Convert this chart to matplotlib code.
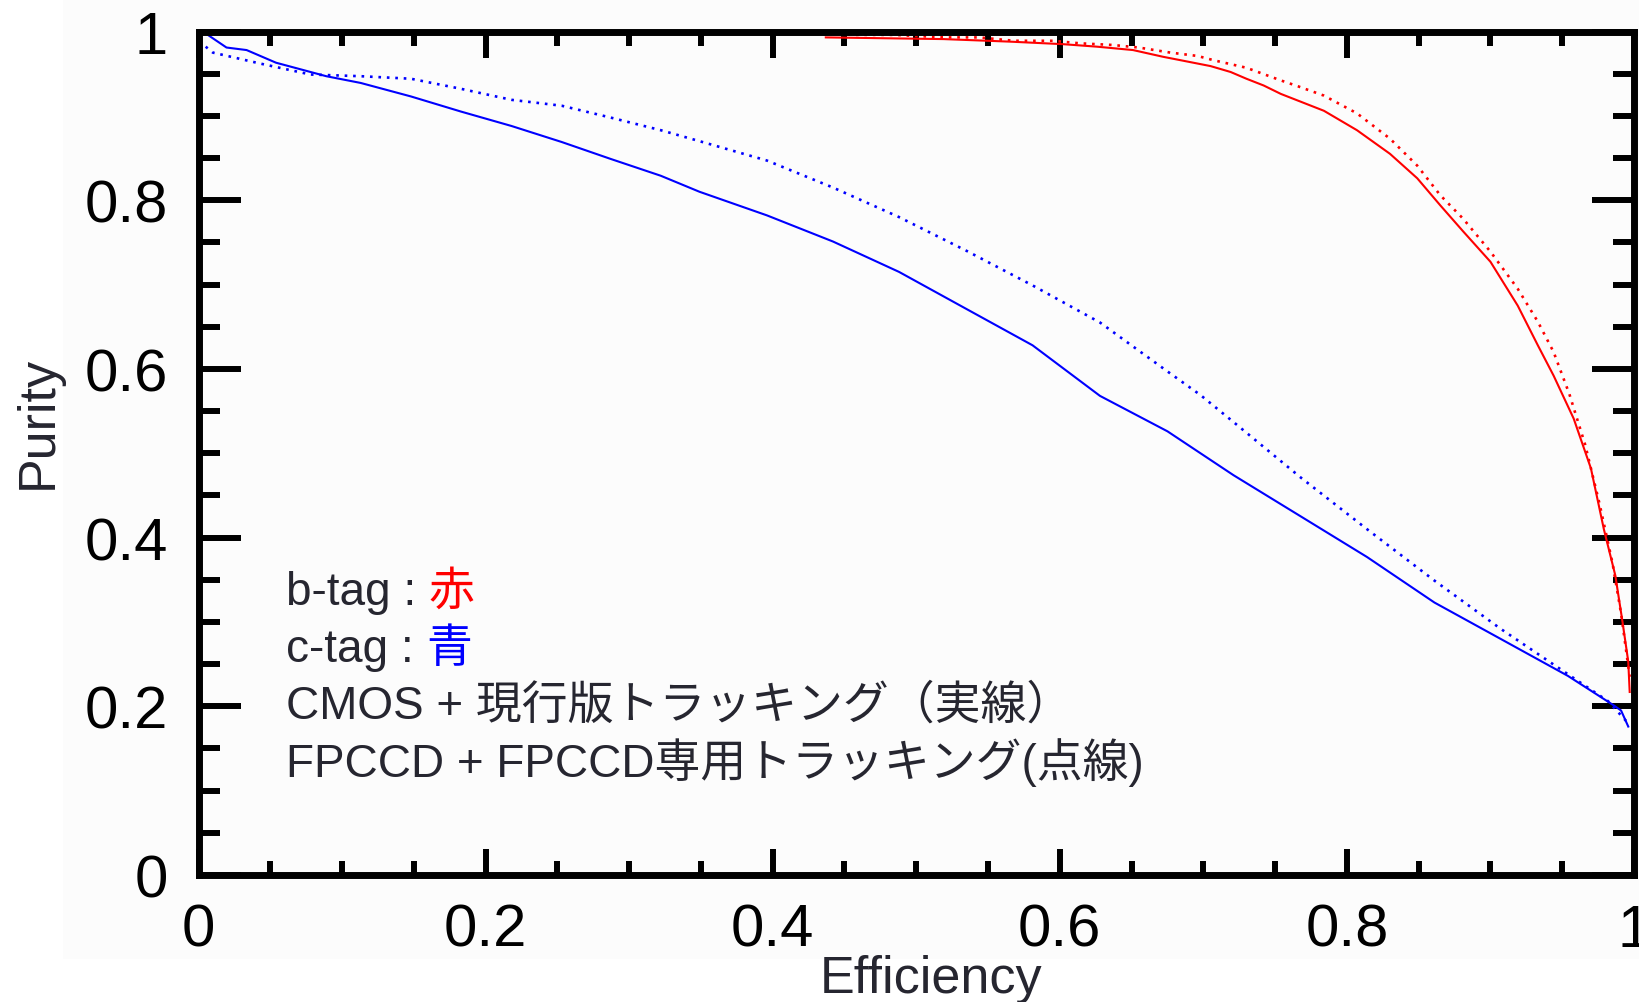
import matplotlib
matplotlib.use("Agg")
import matplotlib.pyplot as plt
from matplotlib.patches import Rectangle
from matplotlib.ticker import MultipleLocator, FixedLocator

# ---- data: purity vs. efficiency for b-tag / c-tag ----
# CMOS + current tracking (solid)
b_cmos_eff = [0.437, 0.519, 0.565, 0.602, 0.626, 0.651, 0.672, 0.684, 0.705, 0.719,
              0.730, 0.742, 0.754, 0.766, 0.784, 0.807, 0.830, 0.849, 0.865, 0.881,
              0.900, 0.919, 0.933, 0.944, 0.958, 0.970, 0.979, 0.987, 0.992, 0.996, 0.997]
b_cmos_pur = [0.993, 0.991, 0.988, 0.985, 0.982, 0.978, 0.970, 0.966, 0.959, 0.952,
              0.944, 0.936, 0.926, 0.918, 0.906, 0.883, 0.855, 0.826, 0.794, 0.763,
              0.727, 0.675, 0.628, 0.592, 0.541, 0.482, 0.410, 0.355, 0.300, 0.253, 0.217]

c_cmos_eff = [0.003, 0.0195, 0.0335, 0.054, 0.089, 0.113, 0.148, 0.183, 0.218, 0.253,
              0.287, 0.322, 0.349, 0.396, 0.442, 0.488, 0.535, 0.581, 0.628, 0.675,
              0.721, 0.768, 0.814, 0.861, 0.907, 0.954, 0.986, 0.991, 0.996]
c_cmos_pur = [1.000, 0.981, 0.978, 0.963, 0.947, 0.939, 0.923, 0.905, 0.888, 0.869,
              0.849, 0.829, 0.810, 0.782, 0.751, 0.715, 0.671, 0.628, 0.568, 0.526,
              0.474, 0.425, 0.377, 0.323, 0.280, 0.236, 0.201, 0.195, 0.176]

# FPCCD + dedicated tracking (dotted)
b_fpccd_eff = [0.458, 0.484, 0.521, 0.544, 0.568, 0.595, 0.614, 0.637, 0.655, 0.677,
               0.696, 0.707, 0.730, 0.754, 0.766, 0.784, 0.807, 0.830, 0.849, 0.865,
               0.881, 0.900, 0.919, 0.933, 0.944, 0.955, 0.966, 0.976, 0.985, 0.991,
               0.995, 0.997]
b_fpccd_pur = [0.996, 0.996, 0.993, 0.993, 0.989, 0.989, 0.986, 0.984, 0.981, 0.975,
               0.971, 0.966, 0.957, 0.942, 0.935, 0.924, 0.903, 0.873, 0.841, 0.806,
               0.778, 0.739, 0.695, 0.656, 0.620, 0.570, 0.510, 0.440, 0.370, 0.310,
               0.260, 0.235]

c_fpccd_eff = [0.005, 0.010, 0.043, 0.078, 0.113, 0.148, 0.183, 0.218, 0.253, 0.287,
               0.322, 0.349, 0.396, 0.442, 0.488, 0.535, 0.581, 0.628, 0.675, 0.698,
               0.721, 0.768, 0.814, 0.861, 0.907, 0.954, 0.982, 0.997]
c_fpccd_pur = [0.982, 0.975, 0.962, 0.949, 0.947, 0.944, 0.932, 0.919, 0.912, 0.898,
               0.883, 0.870, 0.847, 0.815, 0.780, 0.740, 0.699, 0.655, 0.597, 0.569,
               0.537, 0.471, 0.410, 0.349, 0.292, 0.238, 0.206, 0.178]

tick_values = [0, 0.2, 0.4, 0.6, 0.8, 1.0]
tick_labels = ["0", "0.2", "0.4", "0.6", "0.8", "1"]

legend_lines = [
    ("b-tag : ", "赤", "#ff0000"),
    ("c-tag : ", "青", "#0000ff"),
    ("CMOS + 現行版トラッキング（実線）", None, None),
    ("FPCCD + FPCCD専用トラッキング(点線)", None, None),
]

# ---- figure ----
W, H = 1639, 1003
fig = plt.figure(figsize=(W / 100, H / 100), dpi=100, facecolor="white")
fig.patches.append(Rectangle((63 / W, 1 - 960 / H), 1 - 63 / W, 960 / H,
                             transform=fig.transFigure, facecolor="#fcfcfc",
                             edgecolor="none", zorder=-10))

left, right, top, bottom = 198.5, 1634, 32.5, 876
ax = fig.add_axes([left / W, 1 - bottom / H, (right - left) / W, (bottom - top) / H])
ax.set_facecolor("none")
ax.set_zorder(5)

red, blue = "#ff0000", "#0000ff"
dotted = (0, (1, 2.2))
ax.plot(c_cmos_eff, c_cmos_pur, color=blue, lw=1.5, solid_joinstyle="round")
ax.plot(c_fpccd_eff, c_fpccd_pur, color=blue, lw=1.9, linestyle=dotted)
ax.plot(b_cmos_eff, b_cmos_pur, color=red, lw=1.5, solid_joinstyle="round")
ax.plot(b_fpccd_eff, b_fpccd_pur, color=red, lw=1.9, linestyle=dotted)

ax.set_xlim(0, 1)
ax.set_ylim(0, 1)

for s in ax.spines.values():
    s.set_linewidth(5)
    s.set_color("black")

ax.xaxis.set_major_locator(FixedLocator(tick_values))
ax.yaxis.set_major_locator(FixedLocator(tick_values))
ax.xaxis.set_minor_locator(MultipleLocator(0.05))
ax.yaxis.set_minor_locator(MultipleLocator(0.05))
ax.set_xticklabels(tick_labels)
ax.set_yticklabels(tick_labels)

ax.tick_params(axis="x", which="major", direction="in", length=19, width=4.3,
               top=True, bottom=True, pad=20, labelsize=43, colors="black")
ax.tick_params(axis="x", which="minor", direction="in", length=10, width=4.3,
               top=True, bottom=True)
ax.tick_params(axis="y", which="major", direction="in", length=30, width=4.3,
               left=True, right=True, pad=22, labelsize=43, colors="black")
ax.tick_params(axis="y", which="minor", direction="in", length=15, width=4.3,
               left=True, right=True)
for lab in ax.get_xticklabels() + ax.get_yticklabels():
    lab.set_fontfamily(["Liberation Sans", "DejaVu Sans"])

text_color = "#262630"
fam = ["Liberation Sans", "Noto Sans CJK JP", "DejaVu Sans"]

fig.text(931 / W, 1 - 993 / H, "Efficiency", ha="center", va="baseline",
         fontsize=37.5, color=text_color, family=fam)
fig.text(38 / W, 1 - 422 / H, "Purity", ha="center", va="center", rotation=90,
         fontsize=37.5, color=text_color, family=fam)

# annotation block describing colours and line styles
x0 = 286 / W
baselines = [605, 662, 719, 777]
labels = []
for (txt, mark, mcol), yb in zip(legend_lines, baselines):
    t = fig.text(x0, 1 - yb / H, txt, ha="left", va="baseline",
                 fontsize=33, color=text_color, family=fam, zorder=10)
    labels.append((t, mark, mcol, yb))

# coloured marks go right after their labels
fig.canvas.draw()
renderer = fig.canvas.get_renderer()
for t, mark, mcol, yb in labels:
    if mark is None:
        continue
    bb = t.get_window_extent(renderer)
    fig.text(bb.x1 / W, 1 - yb / H, mark, ha="left", va="baseline",
             fontsize=33, color=mcol, family=fam, zorder=10)

fig.savefig("out.png", dpi=100, facecolor="white")
